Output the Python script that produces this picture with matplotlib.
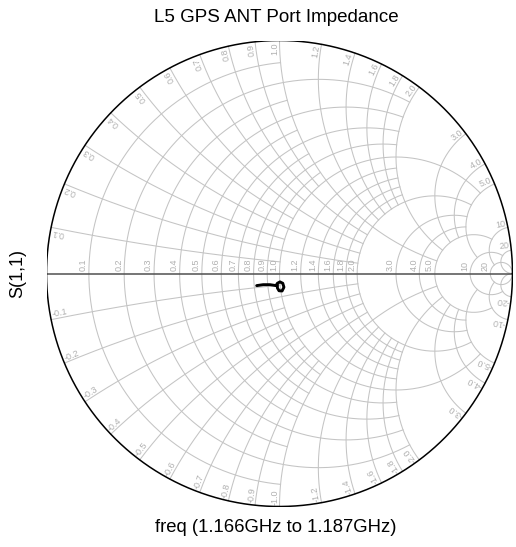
import numpy as np
import matplotlib.pyplot as plt

plt.rcParams['font.family'] = ['Liberation Sans', 'DejaVu Sans']

# Smith chart grid values (normalized resistance / reactance)
grid_vals = [0.1, 0.2, 0.3, 0.4, 0.5, 0.6, 0.7, 0.8, 0.9, 1.0,
             1.2, 1.4, 1.6, 1.8, 2.0, 3.0, 4.0, 5.0, 10.0, 20.0]
grid_text = ["0.1", "0.2", "0.3", "0.4", "0.5", "0.6", "0.7", "0.8", "0.9", "1.0",
             "1.2", "1.4", "1.6", "1.8", "2.0", "3.0", "4.0", "5.0", "10", "20"]

# measured S(1,1) trace, 1.166 GHz to 1.187 GHz
s11_re = [-0.098, -0.070, -0.041, -0.015, -0.009, 0.002, 0.014,
          0.019, 0.011, -0.002, -0.009, -0.009]
s11_im = [-0.052, -0.048, -0.048, -0.052, -0.042, -0.036, -0.042,
          -0.059, -0.075, -0.074, -0.062, -0.051]


def extent(v):
    # how far each grid line runs into the chart before it gets too dense
    if v >= 20:
        return 1e4
    if v >= 10:
        return 20.0
    if v >= 5:
        return 10.0
    if v >= 2:
        return 5.0
    if v > 1:
        return 2.0
    if abs(v - 1.0) < 1e-9:
        return 5.0
    if round(v * 10) % 2 == 0:
        return 2.0
    return 1.0


def gamma(z):
    return (z - 1) / (z + 1)


grid_color = "#c4c4c4"
label_color = "#b0b0b0"

fig = plt.figure(figsize=(5.16, 5.47), dpi=100)
ax = fig.add_axes([46.5 / 516, (547 - 506.5) / 547, 466 / 516, 466 / 547])
ax.set_xlim(-1, 1)
ax.set_ylim(-1, 1)
ax.axis("off")

for v in grid_vals:
    lim = extent(v)
    # constant resistance circle
    t = np.linspace(-np.arctan(lim), np.arctan(lim), 600)
    g = gamma(v + 1j * np.tan(t))
    ax.plot(g.real, g.imag, color=grid_color, lw=0.75, zorder=1)
    # constant reactance arcs (+/-)
    t = np.linspace(0, np.arctan(lim), 600)
    for s in (1, -1):
        g = gamma(np.tan(t) + 1j * s * v)
        ax.plot(g.real, g.imag, color=grid_color, lw=0.75, zorder=1)

# resistance labels along the real axis
for v, txt in zip(grid_vals, grid_text):
    gx = (v - 1) / (v + 1)
    ax.text(gx - 0.004, 0.012, txt, rotation=90, rotation_mode="anchor",
            ha="left", va="bottom", fontsize=6.5, color=label_color)

# reactance labels around the rim
for v, txt in zip(grid_vals, grid_text):
    th = np.pi - 2 * np.arctan(v)
    deg = np.degrees(th)
    ax.text(0.993 * np.cos(th), 0.993 * np.sin(th), txt, rotation=deg,
            rotation_mode="anchor", ha="right", va="bottom",
            fontsize=6.5, color=label_color)
    ax.text(0.993 * np.cos(-th), 0.993 * np.sin(-th), "-" + txt,
            rotation=180 - deg, rotation_mode="anchor", ha="left",
            va="bottom", fontsize=6.5, color=label_color)

ax.plot([-1, 1], [0, 0], color="#505050", lw=1.1, zorder=2)
tt = np.linspace(0, 2 * np.pi, 800)
ax.plot(np.cos(tt), np.sin(tt), color="black", lw=1.1, zorder=3)

ax.plot(s11_re, s11_im, color="black", lw=2.1, zorder=4,
        solid_capstyle="round", solid_joinstyle="round")

fig.text(276 / 516, 1 - 18 / 547, "L5 GPS ANT Port Impedance",
         ha="center", va="center", fontsize=13.5)
fig.text(276 / 516, 1 - 528 / 547, "freq (1.166GHz to 1.187GHz)",
         ha="center", va="center", fontsize=13.3)
fig.text(18 / 516, 1 - 273.5 / 547, "S(1,1)", rotation=90,
         ha="center", va="center", fontsize=13)

fig.savefig("out.png", dpi=100)
